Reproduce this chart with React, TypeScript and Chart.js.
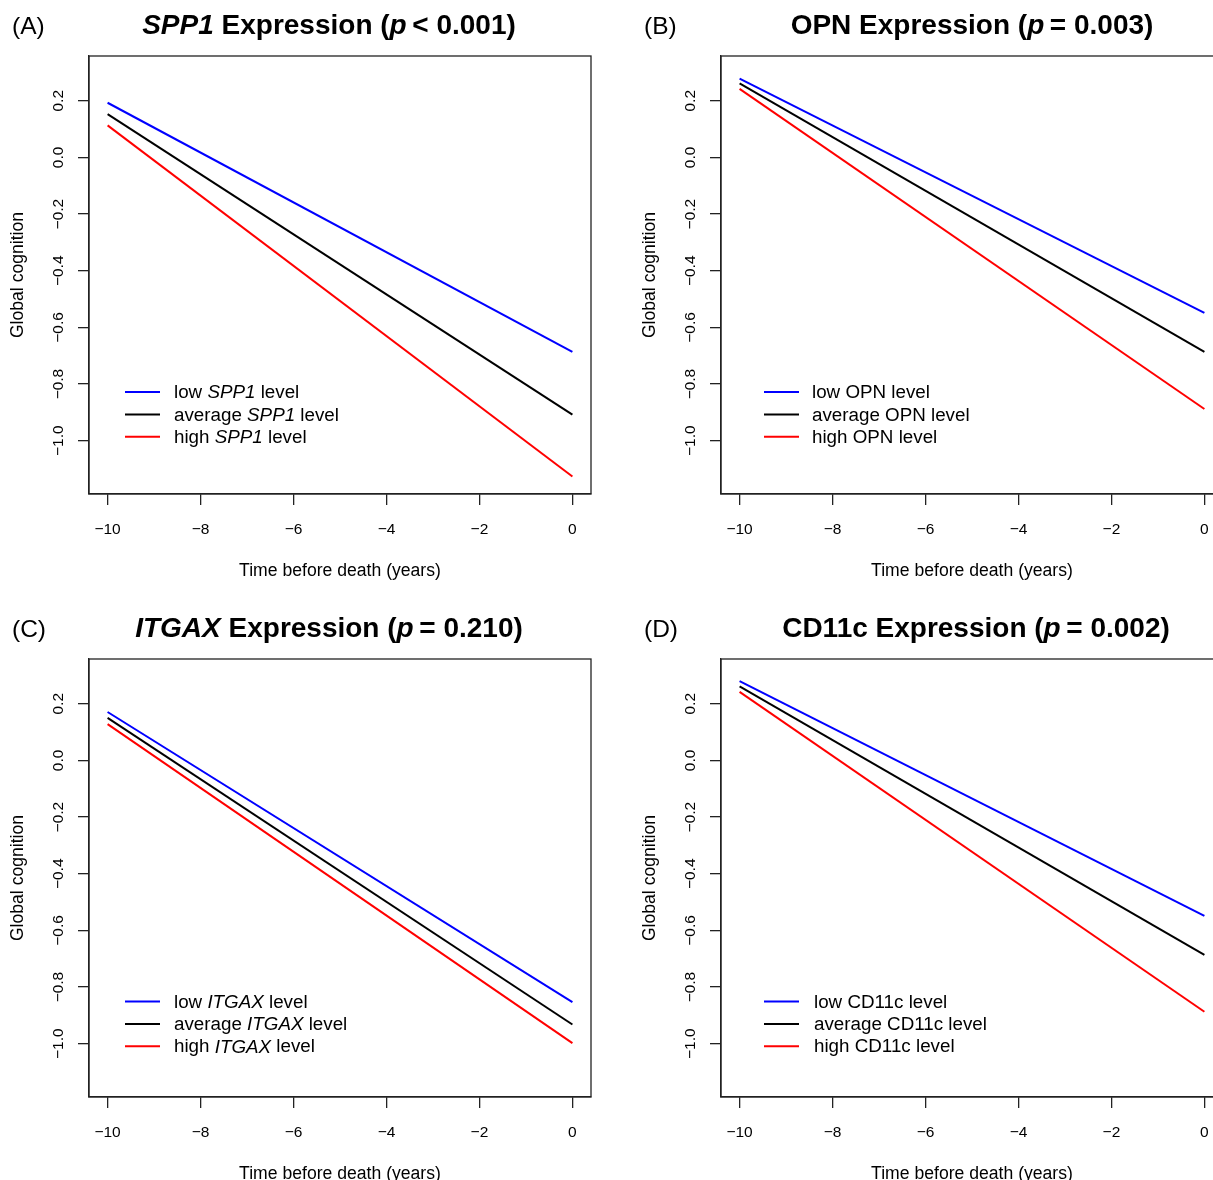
import React, { useEffect, useRef } from "react";
import { Chart, registerables } from "chart.js";
Chart.register(...registerables);

// ---------- data ----------
const timePoints = [-10, 0];
const xTicks = [-10, -8, -6, -4, -2, 0];
const xTickLabels = ["\u221210", "\u22128", "\u22126", "\u22124", "\u22122", "0"];
const yTicks = [0.2, 0.0, -0.2, -0.4, -0.6, -0.8, -1.0];
const yTickLabels = ["0.2", "0.0", "\u22120.2", "\u22120.4", "\u22120.6", "\u22120.8", "\u22121.0"];

const spp1Low = [0.193, -0.686];
const spp1Avg = [0.153, -0.908];
const spp1High = [0.113, -1.126];

const opnLow = [0.278, -0.549];
const opnAvg = [0.261, -0.686];
const opnHigh = [0.242, -0.888];

const itgaxLow = [0.171, -0.853];
const itgaxAvg = [0.15, -0.932];
const itgaxHigh = [0.128, -0.998];

const cd11cLow = [0.28, -0.549];
const cd11cAvg = [0.261, -0.686];
const cd11cHigh = [0.242, -0.887];

const xAxisTitle = "Time before death (years)";
const yAxisTitle = "Global cognition";

// ---------- styles / layout ----------
const FONT = "'Liberation Sans', Arial, Helvetica, sans-serif";
const BLUE = "#0000ff";
const BLACK = "#000000";
const RED = "#ff0000";
const AXIS = "#222222";
const PANEL_W = 632;
const PANEL_H = 603;

type Seg = { t: string; i?: boolean };

const gene = (name: string, italic: boolean): Seg => ({ t: name, i: italic });

function legendRows(name: string, italic: boolean) {
  return [
    { color: BLUE, segs: [{ t: "low " }, gene(name, italic), { t: " level" }] },
    { color: BLACK, segs: [{ t: "average " }, gene(name, italic), { t: " level" }] },
    { color: RED, segs: [{ t: "high " }, gene(name, italic), { t: " level" }] },
  ];
}

const panels = [
  {
    key: "A", left: 0, top: 0, letter: "(A)",
    title: [gene("SPP1", true), { t: " Expression (" }, { t: "p", i: true }, { t: "\u2009< 0.001)" }] as Seg[],
    titleX: 329, legendLineX: 125, legendTextX: 174, legendY: 392,
    legend: legendRows("SPP1", true), series: [spp1Low, spp1Avg, spp1High],
  },
  {
    key: "B", left: PANEL_W, top: 0, letter: "(B)",
    title: [gene("OPN", false), { t: " Expression (" }, { t: "p", i: true }, { t: "\u2009= 0.003)" }] as Seg[],
    titleX: 340, legendLineX: 132, legendTextX: 180, legendY: 392,
    legend: legendRows("OPN", false), series: [opnLow, opnAvg, opnHigh],
  },
  {
    key: "C", left: 0, top: PANEL_H, letter: "(C)",
    title: [gene("ITGAX", true), { t: " Expression (" }, { t: "p", i: true }, { t: "\u2009= 0.210)" }] as Seg[],
    titleX: 329, legendLineX: 125, legendTextX: 174, legendY: 398.5,
    legend: legendRows("ITGAX", true), series: [itgaxLow, itgaxAvg, itgaxHigh],
  },
  {
    key: "D", left: PANEL_W, top: PANEL_H, letter: "(D)",
    title: [gene("CD11c", false), { t: " Expression (" }, { t: "p", i: true }, { t: "\u2009= 0.002)" }] as Seg[],
    titleX: 344, legendLineX: 132, legendTextX: 182, legendY: 398.5,
    legend: legendRows("CD11c", false), series: [cd11cLow, cd11cAvg, cd11cHigh],
  },
];

function drawSegs(ctx: CanvasRenderingContext2D, segs: Seg[], x: number, y: number, size: number, bold: boolean, align: "left" | "center") {
  const fontFor = (s: Seg) => `${s.i ? "italic " : ""}${bold ? "bold " : ""}${size}px ${FONT}`;
  let total = 0;
  const widths = segs.map((s) => {
    ctx.font = fontFor(s);
    const w = ctx.measureText(s.t).width;
    total += w;
    return w;
  });
  let cx = align === "center" ? x - total / 2 : x;
  ctx.textAlign = "left";
  segs.forEach((s, k) => {
    ctx.font = fontFor(s);
    ctx.fillText(s.t, cx, y);
    cx += widths[k];
  });
}

const rDecor = {
  id: "rDecor",
  afterDraw(chart: any, _args: any, opts: any) {
    const ctx: CanvasRenderingContext2D = chart.ctx;
    const ca = chart.chartArea;
    const xs = chart.scales.x;
    const ys = chart.scales.y;
    ctx.save();
    // box
    ctx.strokeStyle = AXIS;
    ctx.lineWidth = 1.3;
    ctx.strokeRect(ca.left, ca.top, ca.right - ca.left, ca.bottom - ca.top);

    ctx.fillStyle = "#000";
    // x tick labels
    ctx.font = `15.5px ${FONT}`;
    ctx.textAlign = "center";
    ctx.textBaseline = "alphabetic";
    xs.ticks.forEach((t: any) => {
      const idx = xTicks.indexOf(t.value);
      if (idx >= 0) ctx.fillText(xTickLabels[idx], xs.getPixelForValue(t.value), ca.bottom + 40);
    });
    // y tick labels (rotated)
    ys.ticks.forEach((t: any) => {
      const idx = yTicks.indexOf(t.value);
      if (idx < 0) return;
      ctx.save();
      ctx.translate(ca.left - 30, ys.getPixelForValue(t.value));
      ctx.rotate(-Math.PI / 2);
      ctx.font = `15.5px ${FONT}`;
      ctx.textAlign = "center";
      ctx.textBaseline = "middle";
      ctx.fillText(yTickLabels[idx], 0, 0);
      ctx.restore();
    });
    // axis titles
    ctx.font = `17.6px ${FONT}`;
    ctx.textAlign = "center";
    ctx.textBaseline = "alphabetic";
    ctx.fillText(xAxisTitle, (ca.left + ca.right) / 2, ca.bottom + 82);
    ctx.save();
    ctx.translate(ca.left - 71, (ca.top + ca.bottom) / 2);
    ctx.rotate(-Math.PI / 2);
    ctx.textBaseline = "middle";
    ctx.fillText(yAxisTitle, 0, 0);
    ctx.restore();

    // panel letter
    ctx.font = `24.5px ${FONT}`;
    ctx.textAlign = "left";
    ctx.textBaseline = "alphabetic";
    ctx.fillText(opts.letter, 12, 34);

    // title
    ctx.textBaseline = "alphabetic";
    drawSegs(ctx, opts.title, opts.titleX, 34, 28, true, "center");

    // legend
    opts.legend.forEach((row: any, r: number) => {
      const y = opts.legendY + r * 22.4;
      ctx.strokeStyle = row.color;
      ctx.lineWidth = 2;
      ctx.beginPath();
      ctx.moveTo(opts.legendLineX, y);
      ctx.lineTo(opts.legendLineX + 35, y);
      ctx.stroke();
      ctx.fillStyle = "#000";
      ctx.textBaseline = "middle";
      drawSegs(ctx, row.segs, opts.legendTextX, y + 1, 18.8, false, "left");
    });
    ctx.restore();
  },
};

function Panel({ cfg }: { cfg: (typeof panels)[number] }) {
  const ref = useRef<HTMLCanvasElement>(null);
  useEffect(() => {
    if (!ref.current) return;
    const colors = [BLUE, BLACK, RED];
    const chart = new Chart(ref.current, {
      type: "line",
      data: {
        datasets: cfg.series.map((arr, k) => ({
          data: timePoints.map((x, i) => ({ x, y: arr[i] })),
          borderColor: colors[k],
          backgroundColor: colors[k],
          borderWidth: 2,
          pointRadius: 0,
          fill: false,
          tension: 0,
        })),
      },
      options: {
        responsive: false,
        animation: false,
        devicePixelRatio: 1,
        layout: { padding: { left: 78, right: 41, top: 56, bottom: 98 } },
        plugins: {
          legend: { display: false },
          tooltip: { enabled: false },
          title: { display: false },
          rDecor: {
            letter: cfg.letter,
            title: cfg.title,
            titleX: cfg.titleX,
            legend: cfg.legend,
            legendLineX: cfg.legendLineX,
            legendTextX: cfg.legendTextX,
            legendY: cfg.legendY,
          },
        } as any,
        scales: {
          x: {
            type: "linear",
            min: -10.4,
            max: 0.4,
            afterBuildTicks: (s: any) => {
              s.ticks = xTicks.map((v) => ({ value: v }));
            },
            afterFit: (s: any) => {
              s.height = 11;
            },
            ticks: { display: false },
            grid: { display: true, drawOnChartArea: false, drawTicks: true, tickLength: 11, color: AXIS, lineWidth: 1.3 },
            border: { display: true, color: AXIS, width: 1.3 },
          },
          y: {
            type: "linear",
            min: -1.188,
            max: 0.358,
            afterBuildTicks: (s: any) => {
              s.ticks = yTicks.map((v) => ({ value: v }));
            },
            afterFit: (s: any) => {
              s.width = 11;
            },
            ticks: { display: false },
            grid: { display: true, drawOnChartArea: false, drawTicks: true, tickLength: 11, color: AXIS, lineWidth: 1.3 },
            border: { display: true, color: AXIS, width: 1.3 },
          },
        },
      },
      plugins: [rDecor],
    } as any);
    return () => chart.destroy();
  }, [cfg]);
  return (
    <canvas
      ref={ref}
      width={PANEL_W}
      height={PANEL_H}
      style={{ position: "absolute", left: cfg.left, top: cfg.top, width: PANEL_W, height: PANEL_H }}
    />
  );
}

export default function App() {
  return (
    <div
      style={{
        position: "absolute",
        left: 0,
        top: 0,
        width: 1213,
        height: 1180,
        overflow: "hidden",
        background: "#fff",
      }}
    >
      {panels.map((p) => (
        <Panel key={p.key} cfg={p} />
      ))}
    </div>
  );
}
